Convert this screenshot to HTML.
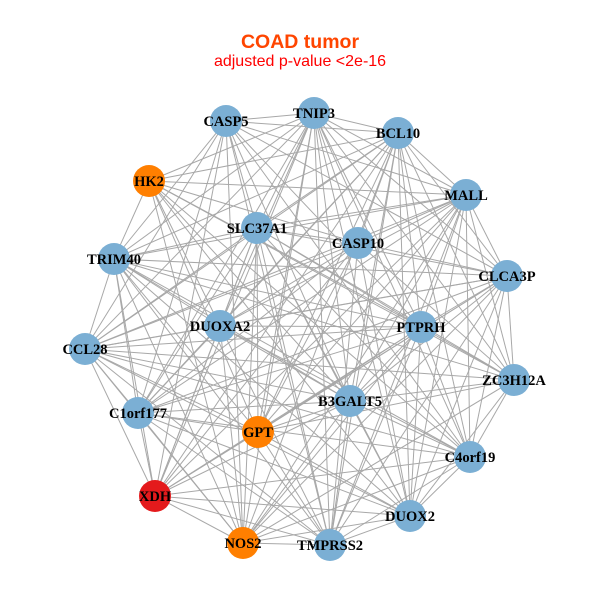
<!DOCTYPE html>
<html><head><meta charset="utf-8"><style>
html,body{margin:0;padding:0;background:#fff;}
</style></head><body>
<svg id="s" width="600" height="600" xmlns="http://www.w3.org/2000/svg">
<rect width="600" height="600" fill="#fff"/>
<text x="300" y="48" text-anchor="middle" font-family="Liberation Sans, sans-serif" font-weight="bold" font-size="19.5" fill="#FF4500">COAD tumor</text>
<text x="300" y="66" text-anchor="middle" font-family="Liberation Sans, sans-serif" font-size="16" fill="#FF0000">adjusted p-value &lt;2e-16</text>
<g id="e" stroke="#a8a8a8" stroke-width="1"></g>
<g id="n"></g>
</svg>
<script>
var N=[["CASP5",226,121,"#7bafd4"],["TNIP3",314,113,"#7bafd4"],["BCL10",398,133,"#7bafd4"],["HK2",149,181,"#ff7f00"],["MALL",466,195,"#7bafd4"],["SLC37A1",257,228,"#7bafd4"],["CASP10",358,243,"#7bafd4"],["TRIM40",114,259,"#7bafd4"],["CLCA3P",507,276,"#7bafd4"],["DUOXA2",220,326,"#7bafd4"],["PTPRH",421,327,"#7bafd4"],["CCL28",85,349,"#7bafd4"],["ZC3H12A",514,380,"#7bafd4"],["B3GALT5",350,401,"#7bafd4"],["C1orf177",138,413,"#7bafd4"],["GPT",258,432,"#ff7f00"],["C4orf19",470,457,"#7bafd4"],["XDH",155,496,"#e41a1c"],["DUOX2",410,516,"#7bafd4"],["NOS2",243,543,"#ff7f00"],["TMPRSS2",330,545,"#7bafd4"]];
var ns="http://www.w3.org/2000/svg",E=document.getElementById("e"),G=document.getElementById("n");
for(var i=0;i<N.length;i++)for(var j=i+1;j<N.length;j++){if((i*7+j*3)%9==0)continue;var l=document.createElementNS(ns,"line");l.setAttribute("x1",N[i][1]);l.setAttribute("y1",N[i][2]);l.setAttribute("x2",N[j][1]);l.setAttribute("y2",N[j][2]);E.appendChild(l);}
N.forEach(function(d){var c=document.createElementNS(ns,"circle");c.setAttribute("cx",d[1]);c.setAttribute("cy",d[2]);c.setAttribute("r",16);c.setAttribute("fill",d[3]);G.appendChild(c);});
N.forEach(function(d){var t=document.createElementNS(ns,"text");t.setAttribute("x",d[1]);t.setAttribute("y",d[2]+5);t.setAttribute("text-anchor","middle");t.setAttribute("font-family","Liberation Serif, serif");t.setAttribute("font-weight","bold");t.setAttribute("font-size","14.5");t.textContent=d[0];G.appendChild(t);});
</script>
</body></html>
